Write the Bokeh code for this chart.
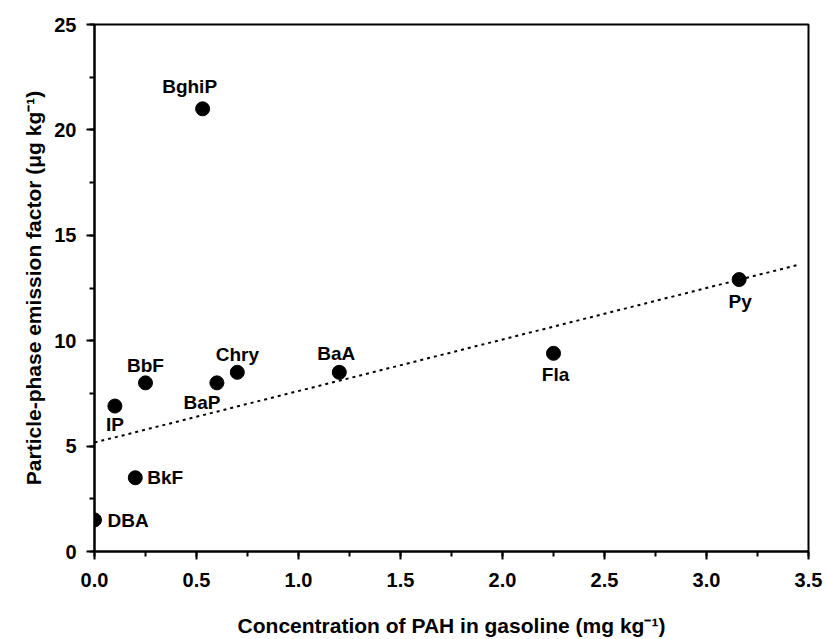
from bokeh.plotting import figure
from bokeh.models import Range1d, ColumnDataSource, SingleIntervalTicker, CustomJSTickFormatter
from bokeh.core.properties import value
from bokeh.embed import file_html
from bokeh.resources import INLINE

# data
names = ["DBA", "BkF", "IP", "BbF", "BaP", "Chry", "BaA", "Fla", "Py", "BghiP"]
conc = [0.0, 0.20, 0.10, 0.25, 0.60, 0.70, 1.20, 2.25, 3.16, 0.53]
emis = [1.5, 3.5, 6.9, 8.0, 8.0, 8.5, 8.5, 9.4, 12.9, 21.0]
fit_x = [0.0, 3.45]
fit_y = [5.17, 13.6]

# label placement (screen px)
lab_dx = [13, 12, 0, 0, -15, 0, -3, 2, 1, -13]
lab_dy = [1, 0, 18, -17, 20, -18, -19, 21, 22, -22]
lab_align = ["left", "left", "center", "center", "center", "center", "center", "center", "center", "center"]

FONT = "Liberation Sans"

p = figure(width=827, height=639, output_backend="svg", toolbar_location=None,
           x_range=Range1d(0, 3.5), y_range=Range1d(0, 25),
           min_border_left=94, min_border_right=19, min_border_top=24, min_border_bottom=87)
p.background_fill_color = "white"
p.border_fill_color = "white"
p.grid.visible = False
p.outline_line_color = "black"
p.outline_line_width = 2

for ax, step in ((p.xaxis, 0.5), (p.yaxis, 5)):
    ax.ticker = SingleIntervalTicker(interval=step, num_minor_ticks=2)
    ax.axis_line_width = 2
    ax.major_tick_line_width = 2
    ax.minor_tick_line_width = 2
    ax.major_tick_out = 8
    ax.major_tick_in = 0
    ax.minor_tick_out = 5
    ax.minor_tick_in = 0
    ax.major_label_text_font = FONT
    ax.major_label_text_font_size = "20px"
    ax.major_label_text_font_style = "bold"
    ax.major_label_text_color = "black"
    ax.axis_label_text_font = FONT
    ax.axis_label_text_font_size = "21px"
    ax.axis_label_text_font_style = "bold"
    ax.axis_label_text_color = "black"

p.xaxis.formatter = CustomJSTickFormatter(code="return tick.toFixed(1);")
p.yaxis.formatter = CustomJSTickFormatter(code="return tick.toFixed(0);")
p.xaxis.axis_label = "Concentration of PAH in gasoline (mg kg\u207b\u00b9)"
p.yaxis.axis_label = "Particle-phase emission factor (\u03bcg kg\u207b\u00b9)"
p.xaxis.major_label_standoff = 13
p.yaxis.major_label_standoff = 10
p.xaxis.axis_label_standoff = 24
p.yaxis.axis_label_standoff = 6

p.line(fit_x, fit_y, line_color="black", line_width=2, line_dash="3 4")

src = ColumnDataSource(dict(x=conc, y=emis, name=names, dx=lab_dx, dy=lab_dy, align=lab_align))
p.scatter("x", "y", source=src, size=14, fill_color="black", line_color="black")
p.text("x", "y", text="name", source=src, x_offset="dx", y_offset="dy", text_align="align",
       text_baseline="middle", text_font=value(FONT), text_font_size="19px",
       text_font_style="bold", text_color="black")

open("out.html", "w").write(file_html(p, INLINE))
